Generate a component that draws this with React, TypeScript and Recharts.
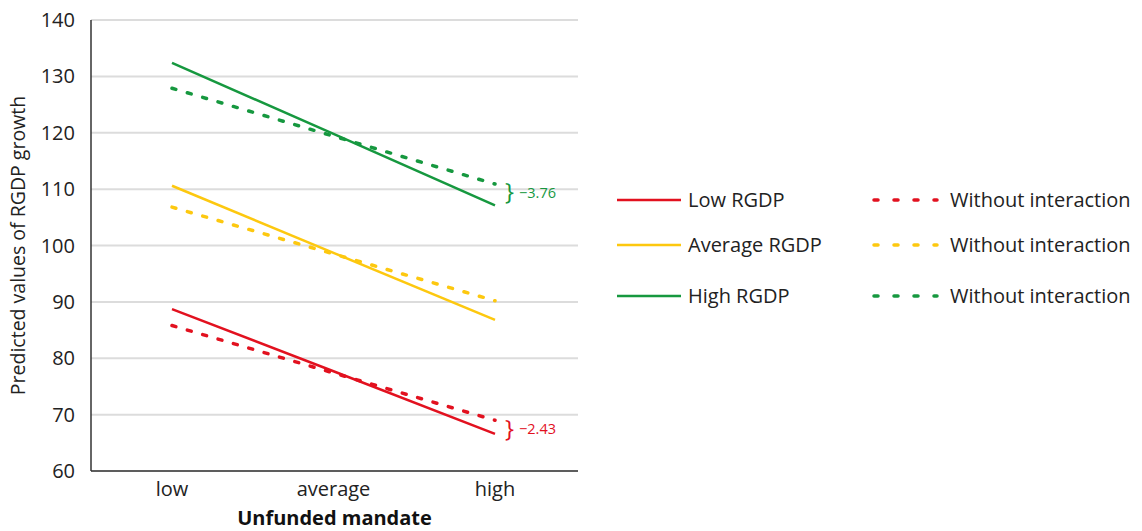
import { CartesianGrid, LabelList, Line, LineChart, XAxis, YAxis, Label } from 'recharts';

const categories = ['low', 'average', 'high'];
const lowRgdp = [88.7, 77.7, 66.6];
const lowRgdpNoInt = [85.8, 77.4, 69.0];
const avgRgdp = [110.6, 98.7, 86.8];
const avgRgdpNoInt = [106.8, 98.5, 90.2];
const highRgdp = [132.4, 119.8, 107.1];
const highRgdpNoInt = [127.9, 119.4, 110.9];
const yTicks = [60, 70, 80, 90, 100, 110, 120, 130, 140];
const diffLabels = { low: '\u22122.43', high: '\u22123.76' };

const RED = '#e2111f';
const YELLOW = '#fdc80f';
const GREEN = '#16983f';
const FONT = '"Open Sans", sans-serif';

const data = categories.map((c, i) => ({
  cat: c,
  low: lowRgdp[i],
  lowNi: lowRgdpNoInt[i],
  avg: avgRgdp[i],
  avgNi: avgRgdpNoInt[i],
  high: highRgdp[i],
  highNi: highRgdpNoInt[i],
}));

const legendRows = [
  { name: 'Low RGDP', color: RED, top: 200 },
  { name: 'Average RGDP', color: YELLOW, top: 245 },
  { name: 'High RGDP', color: GREEN, top: 296 },
];

// brace + difference text at the last point of a dashed series
function diffLabel(text: string, color: string) {
  return (props: any) => {
    const { x, y, index } = props;
    if (index !== categories.length - 1) return null;
    return (
      <g>
        <text x={x + 10} y={y + 10} fill={color} fontSize={24} fontFamily={FONT} dominantBaseline="middle">
          {'}'}
        </text>
        <text x={x + 24} y={y + 10} fill={color} fontSize={14.5} fontFamily={FONT} dominantBaseline="middle">
          {text}
        </text>
      </g>
    );
  };
}

const dashed = { strokeWidth: 3.5, strokeDasharray: '4 12', strokeLinecap: 'round' as const };

const legendText = {
  position: 'absolute' as const,
  fontFamily: FONT,
  fontSize: 20,
  lineHeight: '26px',
  color: '#222',
  whiteSpace: 'nowrap' as const,
};

export default function App() {
  return (
    <div style={{ position: 'absolute', left: 0, top: 0, width: 1142, height: 531, background: '#fff' }}>
      <LineChart
        width={1142}
        height={531}
        data={data}
        margin={{ top: 20, right: 564, bottom: 0, left: 21 }}
      >
        <CartesianGrid vertical={false} stroke="#dcdcdc" strokeWidth={2} />
        <XAxis
          dataKey="cat"
          padding={{ left: 81, right: 83 }}
          tickLine={false}
          axisLine={{ stroke: '#333', strokeWidth: 1.5 }}
          tick={{ fontSize: 20, fill: '#222', fontFamily: FONT }}
          tickMargin={5}
          height={60}
        >
          <Label
            value="Unfunded mandate"
            position="insideBottom"
            offset={6}
            style={{ fontSize: 20, fontWeight: 700, fill: '#111', fontFamily: FONT }}
          />
        </XAxis>
        <YAxis
          domain={[60, 140]}
          ticks={yTicks}
          tickLine={false}
          axisLine={{ stroke: '#333', strokeWidth: 1.5 }}
          tick={{ fontSize: 20, fill: '#222', fontFamily: FONT }}
          tickMargin={10}
          width={70}
        >
          <Label
            content={({ viewBox }: any) => {
              const cy = viewBox.y + viewBox.height / 2;
              return (
                <text
                  x={20}
                  y={cy}
                  transform={`rotate(-90 20 ${cy})`}
                  textAnchor="middle"
                  dominantBaseline="middle"
                  fontSize={19.5}
                  fill="#222"
                  fontFamily={FONT}
                >
                  Predicted values of RGDP growth
                </text>
              );
            }}
          />
        </YAxis>
        <Line dataKey="low" stroke={RED} strokeWidth={2.5} dot={false} isAnimationActive={false} />
        <Line dataKey="lowNi" stroke={RED} {...dashed} dot={false} isAnimationActive={false}>
          <LabelList dataKey="lowNi" content={diffLabel(diffLabels.low, RED)} />
        </Line>
        <Line dataKey="avg" stroke={YELLOW} strokeWidth={2.5} dot={false} isAnimationActive={false} />
        <Line dataKey="avgNi" stroke={YELLOW} {...dashed} dot={false} isAnimationActive={false} />
        <Line dataKey="high" stroke={GREEN} strokeWidth={2.5} dot={false} isAnimationActive={false} />
        <Line dataKey="highNi" stroke={GREEN} {...dashed} dot={false} isAnimationActive={false}>
          <LabelList dataKey="highNi" content={diffLabel(diffLabels.high, GREEN)} />
        </Line>
      </LineChart>
      {legendRows.map((r) => (
        <div key={r.name}>
          <svg style={{ position: 'absolute', left: 615, top: r.top - 5 }} width={340} height={10}>
            <line x1={2} y1={5} x2={66} y2={5} stroke={r.color} strokeWidth={2.5} />
            <line x1={259} y1={5} x2={322} y2={5} stroke={r.color} strokeWidth={3.5} strokeDasharray="4 16" strokeLinecap="round" />
          </svg>
          <div style={{ ...legendText, left: 688, top: r.top - 13 }}>{r.name}</div>
          <div style={{ ...legendText, left: 950, top: r.top - 13 }}>Without interaction</div>
        </div>
      ))}
    </div>
  );
}
